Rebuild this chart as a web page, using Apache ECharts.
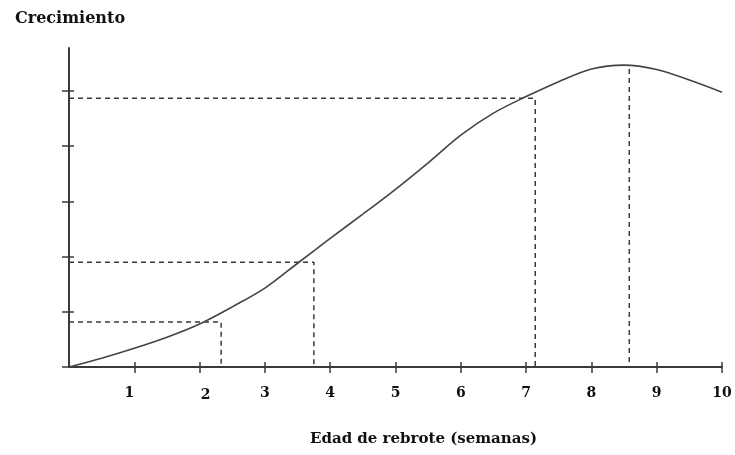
<!DOCTYPE html>
<html>
<head>
<meta charset="utf-8">
<script src="https://cdn.jsdelivr.net/npm/echarts@6/dist/echarts.min.js"></script>
<style>
  html, body { margin: 0; padding: 0; background: #fff; }
  #chart { width: 735px; height: 455px; }
</style>
</head>
<body>
<div id="chart"></div>
<script>
// curve (weeks -> growth, in y-tick units)
const ageWeeks = [0, 0.5, 1, 1.5, 2, 2.5, 3, 3.5, 4, 4.5, 5, 5.5, 6, 6.5, 7, 7.5, 8, 8.5, 9, 9.5, 10]
const growth = [0, 0.16, 0.34, 0.54, 0.78, 1.09, 1.43, 1.88, 2.33, 2.77, 3.22, 3.7, 4.2, 4.6, 4.9, 5.17, 5.4, 5.47, 5.39, 5.2, 4.98]

// dashed reading guides
const guideAge = [2.33, 3.75, 7.14, 8.58]
const guideGrowth = [0.815, 1.9, 4.87, 5.4]
const guideHasHorizontal = [true, true, true, false]

const xTicks = [0, 1, 2, 3, 4, 5, 6, 7, 8, 9, 10]
const yTicks = [0, 1, 2, 3, 4, 5]

const ink = '#3a3a3a'
const serif = '"DejaVu Serif", "Liberation Serif", serif'

const chart = echarts.init(document.getElementById('chart'))

const guideSeries = guideAge.map((a, i) => {
  const g = guideGrowth[i]
  const pts = guideHasHorizontal[i] ? [[0, g], [a, g], [a, 0]] : [[a, g], [a, 0]]
  return {
    type: 'line',
    data: pts,
    symbol: 'none',
    silent: true,
    z: 1,
    lineStyle: { color: ink, width: 1.5, type: [5, 4] },
  }
})

const labelShift = { 1: 'l', 2: 'r' } // hand-placed labels in the original
const labelFont = { fontFamily: serif, fontWeight: 'bold', fontSize: 14, color: '#111' }

const option = {
  animation: false,
  title: [
    {
      text: 'Crecimiento',
      left: 10, top: 6,
      textStyle: { fontFamily: serif, fontWeight: 'bold', fontSize: 16, color: '#111' },
    },
    {
      text: 'Edad de rebrote (semanas)',
      left: 305, top: 427,
      textStyle: { fontFamily: serif, fontWeight: 'bold', fontSize: 15, color: '#111' },
    },
  ],
  grid: { left: 69, right: 13, top: 48, bottom: 88 },
  xAxis: [
    {
      type: 'value', min: 0, max: 10, interval: 1,
      position: 'bottom', offset: 0,
      axisLine: { show: true, lineStyle: { color: ink, width: 2 } },
      axisTick: { show: true, inside: false, length: 6, customValues: xTicks, lineStyle: { color: ink, width: 1.5 } },
      splitLine: { show: false },
      axisLabel: {
        margin: 19,
        showMinLabel: false,
        formatter: (v) => labelShift[v] ? '{' + labelShift[v] + '|' + v + '}' : '' + v,
        ...labelFont,
        rich: {
          l: { padding: [0, 10, 0, 0], ...labelFont },
          r: { padding: [2, 0, 0, 12], ...labelFont },
        },
      },
    },
    {
      type: 'value', min: 0, max: 10, interval: 1,
      position: 'bottom', offset: 0,
      axisLine: { show: false },
      axisTick: { show: true, inside: true, length: 5, customValues: xTicks, lineStyle: { color: ink, width: 1.5 } },
      axisLabel: { show: false },
      splitLine: { show: false },
    },
  ],
  yAxis: [
    {
      type: 'value', min: 0, max: 5.78, interval: 1,
      position: 'left', offset: 0,
      axisLine: { show: true, lineStyle: { color: ink, width: 2 } },
      axisTick: { show: true, inside: false, length: 7, customValues: yTicks, lineStyle: { color: ink, width: 1.5 } },
      axisLabel: { show: false },
      splitLine: { show: false },
    },
    {
      type: 'value', min: 0, max: 5.78, interval: 1,
      position: 'left', offset: 0,
      axisLine: { show: false },
      axisTick: { show: true, inside: true, length: 5, customValues: yTicks, lineStyle: { color: ink, width: 1.5 } },
      axisLabel: { show: false },
      splitLine: { show: false },
    },
  ],
  series: [
    ...guideSeries,
    {
      type: 'line',
      data: ageWeeks.map((a, i) => [a, growth[i]]),
      smooth: 0.3,
      symbol: 'none',
      z: 3,
      lineStyle: { color: '#444', width: 1.6 },
    },
  ],
}

chart.setOption(option)
</script>
</body>
</html>
